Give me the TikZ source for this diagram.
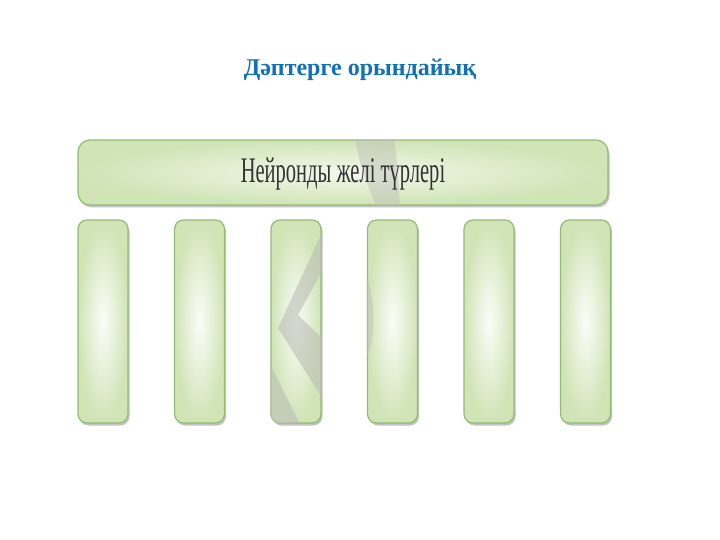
\documentclass[tikz,border=0pt]{standalone}
\usepackage{fontspec}
\setmainfont{Liberation Serif}
\usetikzlibrary{calc,shadows}

\definecolor{titleblue}{RGB}{16,112,184}
\definecolor{boxgreen}{RGB}{208,228,182}
\definecolor{boxedge}{RGB}{146,188,116}
\definecolor{markgray}{RGB}{188,190,182}

\tikzset{
  typebox/.style={rounded corners=9pt, draw=boxedge, line width=1.2pt,
    shading=radial, inner color=white!92!boxgreen, outer color=boxgreen,
    minimum width=50pt, minimum height=203pt,
    drop shadow={shadow xshift=1.5pt, shadow yshift=-2.5pt, opacity=0.4, fill=black!60}},
  headbar/.style={rounded corners=12pt, draw=boxedge, line width=1.2pt,
    shading=radial, inner color=white!75!boxgreen, outer color=boxgreen,
    minimum width=530pt, minimum height=65pt,
    drop shadow={shadow xshift=1.5pt, shadow yshift=-2.5pt, opacity=0.4, fill=black!60}},
  markband/.style={fill=markgray, fill opacity=0.6}
}

\begin{document}
\begin{tikzpicture}[x=1pt, y=-1pt]
    \useasboundingbox (0,0) rectangle (720,540);

    \node[font=\bfseries\fontsize{24}{28}\selectfont, text=titleblue] (title) at (360,70) {Дәптерге орындайық};

    \node[headbar] (bar) at (343,172.5) {};

    \node[typebox] (t1) at (103,321.5) {};
    \node[typebox] (t2) at ($(t1) + (96.5,0)$) {};
    \node[typebox] (t3) at ($(t2) + (96.5,0)$) {};
    \node[typebox] (t4) at ($(t3) + (96.5,0)$) {};
    \node[typebox] (t5) at ($(t4) + (96.5,0)$) {};
    \node[typebox] (t6) at ($(t5) + (96.5,0)$) {};

    % faint watermark, only seen inside the boxes
    \begin{scope}
        \clip[rounded corners=12pt] (bar.south west) rectangle (bar.north east);
        \fill[markband, fill opacity=0.45] (354,136) .. controls (362,172) .. (378,210) -- (400,210) .. controls (398,172) .. (394,136) -- cycle;
    \end{scope}
    \begin{scope}
        \clip[rounded corners=9pt] (t3.south west) rectangle (t3.north east);
        \fill[markband] (326,224) -- (278,328) -- (326,404) -- (326,342) -- (298,315) -- (326,264) -- cycle;
        \fill[markband] (264,352) -- (302,428) -- (264,428) -- cycle;
    \end{scope}
    \begin{scope}
        \clip[rounded corners=9pt] (t4.south west) rectangle (t4.north east);
        \fill[markband, fill opacity=0.45] (363,272) .. controls (377,290) and (377,346) .. (363,364) -- cycle;
    \end{scope}

    \node[font=\fontsize{36}{40}\selectfont, text=black!80] (barlabel) at ($(bar.center) + (0,1.5)$) {\scalebox{0.57}[1]{Нейронды желі түрлері}};

\end{tikzpicture}
\end{document}
